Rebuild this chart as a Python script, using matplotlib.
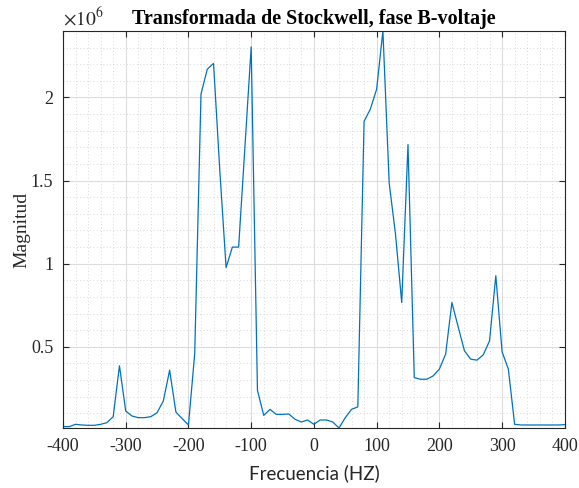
import numpy as np
import matplotlib.pyplot as plt
from matplotlib.ticker import MultipleLocator, FuncFormatter

# frecuencias (Hz), paso de 10 Hz
freq = np.arange(-400, 401, 10)

# magnitud en unidades de 1e6
mag_e6 = [
    0.020, 0.020, 0.034, 0.030, 0.028, 0.028, 0.034, 0.044, 0.080, 0.386,   # -400 .. -310
    0.114, 0.084, 0.074, 0.074, 0.080, 0.104, 0.175, 0.360, 0.108, 0.068,   # -300 .. -210
    0.030, 0.460, 2.020, 2.170, 2.205, 1.560, 0.977, 1.100, 1.100, 1.700,   # -200 .. -110
    2.305, 0.239, 0.088, 0.124, 0.094, 0.094, 0.096, 0.064, 0.048, 0.060,   # -100 .. -10
    0.034, 0.060, 0.060, 0.048, 0.012, 0.074, 0.124, 0.139, 1.857, 1.930,   # 0 .. 90
    2.050, 2.400, 1.486, 1.180, 0.767, 1.717, 0.315, 0.305, 0.305, 0.325,   # 100 .. 190
    0.366, 0.456, 0.767, 0.620, 0.476, 0.426, 0.420, 0.452, 0.536, 0.928,   # 200 .. 290
    0.470, 0.366, 0.034, 0.030, 0.030, 0.030, 0.030, 0.030, 0.030, 0.030,   # 300 .. 390
    0.032,                                                                  # 400
]
mag = np.array(mag_e6) * 1e6

xticks = np.arange(-400, 401, 100)
yticks = np.array([0.5, 1, 1.5, 2]) * 1e6

fig = plt.figure(figsize=(5.79, 4.88), dpi=100)
ax = fig.add_axes([0.1088, 0.123, 0.8667, 0.8135])

ax.plot(freq, mag, color='#0072BD', lw=0.9)

ax.set_xlim(-400, 400)
ax.set_ylim(mag.min(), mag.max())
ax.set_xticks(xticks)
ax.set_yticks(yticks)
ax.xaxis.set_minor_locator(MultipleLocator(20))
ax.yaxis.set_minor_locator(MultipleLocator(0.1e6))
ax.yaxis.set_major_formatter(FuncFormatter(lambda v, p: '%g' % (v / 1e6)))
ax.xaxis.set_major_formatter(FuncFormatter(lambda v, p: '%d' % v))

ax.grid(which='major', color='#dcdcdc', lw=0.8, ls='-')
ax.grid(which='minor', color='#cccccc', lw=0.6, ls=(0, (1, 3)))
ax.set_axisbelow(True)

ax.tick_params(which='major', direction='in', top=True, right=True,
               length=4, width=0.8, color='#262626', labelsize=13, pad=7)
ax.tick_params(which='minor', length=0)
for lab in ax.get_xticklabels() + ax.get_yticklabels():
    lab.set_family('Liberation Serif')
    lab.set_color('#262626')
for s in ax.spines.values():
    s.set_color('#262626')
    s.set_linewidth(0.8)

ax.text(0.0, 1.005, r'$\times10^{6}$', transform=ax.transAxes, ha='left', va='bottom',
        fontsize=14, family='Liberation Serif', math_fontfamily='stix', color='#262626')
ax.set_title('Transformada de Stockwell, fase B-voltaje', family='Liberation Serif',
             fontweight='bold', fontsize=14.5, pad=5)
ax.set_xlabel('Frecuencia (HZ)', family=['Lato', 'DejaVu Sans'],
              fontsize=13.5, labelpad=7, color='#262626')
ax.set_ylabel('Magnitud', family='Liberation Serif', fontsize=14, labelpad=0, color='#262626')

fig.savefig('out.png', dpi=100)
